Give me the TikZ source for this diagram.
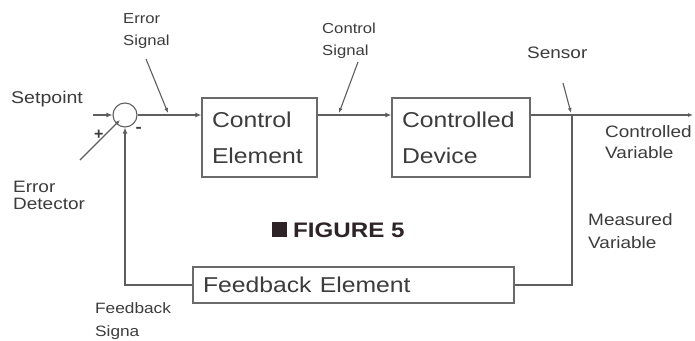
\documentclass[tikz,border=0pt]{standalone}
\usepackage{graphicx}
\usepackage{fontspec}
\setmainfont{Liberation Sans}
\usetikzlibrary{arrows.meta}
\definecolor{linec}{HTML}{5E5E5E}
\definecolor{boxc}{HTML}{6A6A6A}
\definecolor{txtc}{HTML}{3C3C3C}
\definecolor{figc}{HTML}{2E2428}
\newcommand{\wt}[1]{\scalebox{1.15}[1]{#1}}
\newcommand{\fsz}[2]{\fontsize{#1}{#2}\selectfont}
\begin{document}
\begin{tikzpicture}[x=1pt,y=-1pt,
  line/.style={draw=linec, line width=1.3pt},
  arr/.style={line, -{Latex[length=6pt,width=5pt]}},
  ptr/.style={draw=linec, line width=1.1pt, -{Latex[length=5pt,width=4pt]}},
  blk/.style={draw=boxc, line width=1.3pt, rectangle, inner sep=0pt, text=txtc, align=left},
  lbl/.style={inner sep=0pt, text=txtc, align=left, anchor=west}]
\useasboundingbox (0,0) rectangle (695,340);
\fill[white] (0,0) rectangle (695,340);

% blocks
\node[circle, draw=linec, line width=1.1pt, minimum size=24pt, inner sep=0pt] (sum) at (125,115) {};
\node[blk, minimum width=115pt, minimum height=79pt, text width=95pt, font=\fsz{21.5}{36}] (ce) at (259.5,137.5) {\wt{Control}\\\wt{Element}};
\node[blk, minimum width=138pt, minimum height=79pt, text width=118pt, font=\fsz{21.5}{36}] (cd) at (461,137.5) {\wt{Controlled}\\\wt{Device}};
\node[blk, minimum width=321pt, minimum height=36pt, text width=301pt, font=\fsz{21.5}{26}] (fb) at (353.5,285) {\wt{Feedback Element}};

% coordinates
\coordinate (sp) at (93,115);
\coordinate (sj) at (572,115);
\coordinate (out) at (693,115);
\coordinate (esT) at (146,59);
\coordinate (esH) at (168,113);
\coordinate (csT) at (358,62);
\coordinate (csH) at (339,113);
\coordinate (snT) at (563,83);
\coordinate (snH) at (571,113);
\coordinate (edT) at (80,160);
\coordinate (edH) at (120,120);

% connectors
\draw[arr] (sp) -- (sum.west);
\draw[arr] (sum.east) -- (sum.east -| ce.west);
\draw[arr] (sum.east -| ce.east) -- (sum.east -| cd.west);
\draw[line] (sum.east -| cd.east) -- (sj);
\draw[line, -{Latex[length=5pt,width=4pt]}] (sj) -- (out);
\draw[line] (sj) -- (sj |- fb.east) -- (fb.east);
\draw[arr] (fb.west) -- (fb.west -| sum.south) -- (sum.south);

% pointers
\draw[ptr] (esT) -- (esH);
\draw[ptr] (csT) -- (csH);
\draw[ptr] (snT) -- (snH);
\draw[ptr] (edT) -- (edH);

% labels
\node[lbl, font=\fsz{14.5}{22}] (les) at (123,31) {\wt{Error}\\\wt{Signal}};
\node[lbl, font=\fsz{14.5}{22}] (lcs) at (322,41) {\wt{Control}\\\wt{Signal}};
\node[lbl, font=\fsz{17}{20}] (lsp) at (11,99) {\wt{Setpoint}};
\node[lbl, font=\fsz{16.5}{17}] (led) at (13,195) {\wt{Error}\\\wt{Detector}};
\node[lbl, font=\fsz{16.5}{20}] (lsn) at (527,53) {\wt{Sensor}};
\node[lbl, font=\fsz{16.5}{21}] (lcv) at (605,142.5) {\wt{Controlled}\\\wt{Variable}};
\node[lbl, font=\fsz{16.5}{23}] (lmv) at (588,231.5) {\wt{Measured}\\\wt{Variable}};
\node[lbl, font=\fsz{15}{23}] (lfs) at (95,321.5) {\wt{Feedback}\\\wt{Signa}};
\node[lbl, font=\bfseries\fsz{16}{18}] (lplus) at (94,135) {+};
\node[lbl, font=\bfseries\fsz{16}{18}] (lminus) at (135.5,130) {\wt{-}};
\node[lbl, font=\fsz{21}{24}, text=figc] (fig) at (272,230) {\textcolor{figc}{\rule{15pt}{15pt}}\hspace{6pt}\wt{\bfseries FIGURE 5}};
\end{tikzpicture}
\end{document}
